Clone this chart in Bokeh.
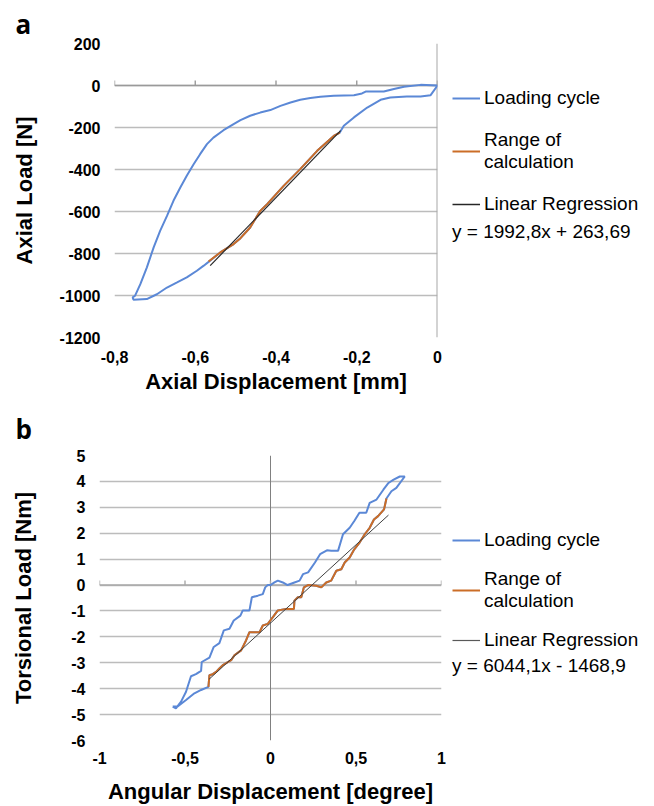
from bokeh.plotting import figure
from bokeh.models import Range1d, FixedTicker, Span, Legend, LegendItem
from bokeh.layouts import row
from bokeh.embed import file_html
from bokeh.resources import INLINE

# ---------------- Panel a data (Axial Displacement [mm] vs Axial Load [N]) ----------------
a_cycle_x = [0, -0.042, -0.083, -0.108, -0.133, -0.178, -0.187, -0.207, -0.257, -0.29, -0.315, -0.34,
             -0.364, -0.389, -0.414, -0.439, -0.464, -0.488, -0.505, -0.53, -0.555, -0.571, -0.588,
             -0.604, -0.621, -0.637, -0.654, -0.67, -0.687, -0.703, -0.72, -0.736, -0.749, -0.755,
             -0.753, -0.72, -0.695, -0.67, -0.645, -0.621, -0.596, -0.579, -0.567,
             -0.538, -0.505, -0.488, -0.464, -0.439, -0.422, -0.381, -0.34, -0.298, -0.257, -0.242,
             -0.232, -0.207, -0.174, -0.141, -0.117, -0.076, -0.042, -0.017, 0]
a_cycle_y = [0, 3, -6, -17, -29, -29, -38, -46, -49, -54, -60, -68,
             -81, -97, -117, -129, -144, -165, -184, -213, -248, -279, -327,
             -375, -430, -486, -549, -621, -692, -771, -867, -946, -1001, -1009,
             -1020, -1017, -994, -962, -938, -914, -882, -858, -840,
             -795, -755, -727, -676, -597, -565, -478, -398, -311, -240, -224,
             -192, -152, -105, -68, -57, -52, -52, -46, 0]
a_range_x = [-0.567, -0.538, -0.505, -0.488, -0.464, -0.439, -0.422, -0.381, -0.34, -0.298, -0.257, -0.242]
a_range_y = [-838, -795, -755, -727, -676, -597, -565, -478, -398, -311, -240, -224]
a_reg_x = [-0.563, -0.24]
a_reg_y = [-858, -215]
a_equation = "y = 1992,8x + 263,69"
a_xticks = [-0.8, -0.6, -0.4, -0.2, 0]
a_xlabels = ["-0,8", "-0,6", "-0,4", "-0,2", "0"]
a_yticks = [200, 0, -200, -400, -600, -800, -1000, -1200]
a_ylabels = ["200", "0", "-200", "-400", "-600", "-800", "-1000", "-1200"]

# ---------------- Panel b data (Angular Displacement [degree] vs Torsional Load [Nm]) ----------------
b_up_x = [-0.572, -0.553, -0.523, -0.494, -0.465, -0.436, -0.406, -0.402, -0.357, -0.332, -0.299, -0.273,
          -0.24, -0.215, -0.176, -0.162, -0.123, -0.109, -0.074, -0.045, -0.031, -0.016, 0, 0.023,
          0.043, 0.072, 0.1, 0.14, 0.17, 0.19, 0.22, 0.26, 0.29, 0.33, 0.355, 0.395, 0.424, 0.463,
          0.49, 0.52, 0.56, 0.58, 0.62, 0.66, 0.69, 0.72, 0.756, 0.785]
b_up_y = [-4.69, -4.76, -4.5, -4.12, -3.52, -3.44, -3.31, -2.97, -2.8, -2.39, -2.24, -1.75,
          -1.69, -1.37, -1.18, -0.98, -0.98, -0.47, -0.41, -0.35, -0.09, 0, 0, 0.1,
          0.17, 0.1, 0, 0.1, 0.17, 0.42, 0.49, 0.87, 1.19, 1.34, 1.32, 1.32, 1.96, 2.21,
          2.47, 2.79, 2.79, 3.17, 3.3, 3.68, 3.94, 4.07, 4.19, 4.19]
b_top_x = [0.736, 0.707]
b_top_y = [3.75, 3.62]
b_range_x = [0.678, 0.664, 0.629, 0.605, 0.58, 0.551, 0.521, 0.49, 0.463, 0.434, 0.414, 0.385, 0.355,
             0.326, 0.297, 0.268, 0.219, 0.195, 0.18, 0.16, 0.14, 0.137, 0.092, 0.043, 0.014, -0.016,
             -0.045, -0.064, -0.123, -0.143, -0.172, -0.211, -0.23, -0.279, -0.299, -0.318, -0.338,
             -0.357, -0.363]
b_range_y = [3.34, 2.92, 2.66, 2.53, 2.21, 1.96, 1.64, 1.38, 1.06, 0.87, 0.61, 0.55, 0.17,
             0.1, -0.09, -0.03, 0, -0.09, -0.47, -0.47, -0.6, -0.92, -0.92, -0.98, -1.24, -1.5,
             -1.56, -1.82, -1.82, -2.14, -2.52, -2.71, -2.9, -3.09, -3.22, -3.35, -3.44,
             -3.48, -3.93]
b_low_x = [-0.406, -0.445, -0.494, -0.543, -0.572]
b_low_y = [-4.05, -4.18, -4.44, -4.69, -4.69]
b_reg_x = [-0.36, 0.69]
b_reg_y = [-3.64, 2.70]
b_equation = "y = 6044,1x - 1468,9"
b_xticks = [-1, -0.5, 0, 0.5, 1]
b_xlabels = ["-1", "-0,5", "0", "0,5", "1"]
b_yticks = [5, 4, 3, 2, 1, 0, -1, -2, -3, -4, -5, -6]
b_ylabels = ["5", "4", "3", "2", "1", "0", "-1", "-2", "-3", "-4", "-5", "-6"]

legend_labels = ["Loading cycle", "Range of\ncalculation", "Linear Regression"]

BLUE = "#5b88d6"
ORANGE = "#cb6d27"
FONT = "Liberation Sans"


def base_fig(width, height, xr, yr, xticks, xlabels, yticks, ylabels, xtitle, ytitle,
             left, right, top, bottom, ylab_standoff, xtick_standoff, xlab_standoff,
             letter, letter_offset, letter_standoff):
    p = figure(width=width, height=height, x_range=Range1d(*xr), y_range=Range1d(*yr),
               output_backend="svg", toolbar_location=None)
    p.min_border_left = left
    p.min_border_right = right
    p.min_border_top = top
    p.min_border_bottom = bottom
    p.outline_line_color = None
    p.xgrid.visible = False
    p.ygrid.grid_line_color = "#bcbcbc"
    p.ygrid.grid_line_width = 1.6
    p.ygrid.ticker = FixedTicker(ticks=yticks)
    p.xaxis.ticker = FixedTicker(ticks=xticks)
    p.xaxis.major_label_overrides = {t: l for t, l in zip(xticks, xlabels)}
    p.yaxis.ticker = FixedTicker(ticks=yticks)
    p.yaxis.major_label_overrides = {t: l for t, l in zip(yticks, ylabels)}
    for ax in (p.xaxis, p.yaxis):
        ax.axis_line_alpha = 0
        ax.major_tick_line_alpha = 0
        ax.minor_tick_line_alpha = 0
        ax.major_tick_out = 0
        ax.major_tick_in = 0
        ax.major_label_text_font = FONT
        ax.major_label_text_font_style = "bold"
        ax.major_label_text_font_size = "16px"
        ax.major_label_text_color = "#000000"
        ax.axis_label_text_font = FONT
        ax.axis_label_text_font_style = "bold"
        ax.axis_label_text_font_size = "22px"
        ax.axis_label_text_color = "#000000"
    p.xaxis.axis_label = xtitle
    p.yaxis.axis_label = ytitle
    p.yaxis.major_label_standoff = 14
    p.xaxis.major_label_standoff = xtick_standoff
    p.yaxis.axis_label_standoff = ylab_standoff
    p.xaxis.axis_label_standoff = xlab_standoff
    p.title.text = letter
    p.title.align = "left"
    p.title.offset = letter_offset
    p.title.standoff = letter_standoff
    p.title.text_font = "Open Sans"
    p.title.text_font_style = "bold"
    p.title.text_font_size = "26px"
    p.title.text_color = "#000000"
    return p


def legend_fig(width, height, top, bottom, loc, spacing, eq_text, title_standoff, series, styles):
    # legend-only panel: the series are drawn off-view so that only their legend glyphs show
    q = figure(width=width, height=height, x_range=Range1d(10, 11), y_range=Range1d(10, 11),
               x_axis_type=None, y_axis_type=None, output_backend="svg", toolbar_location=None)
    q.min_border_left = 0
    q.min_border_right = 0
    q.min_border_top = top
    q.min_border_bottom = bottom
    q.outline_line_color = None
    q.grid.visible = False
    rs = [q.line(x=sx, y=sy, line_color=c, line_width=w) for (sx, sy), (c, w) in zip(series, styles)]
    items = [LegendItem(label=lab, renderers=[r]) for lab, r in zip(legend_labels, rs)]
    lg = Legend(items=items, location=loc,
                label_text_font=FONT, label_text_font_size="19px", label_text_color="#000000",
                label_text_line_height=1.15,
                glyph_width=28, glyph_height=22, label_height=22, label_standoff=4,
                padding=0, margin=0, spacing=spacing, border_line_alpha=0, background_fill_alpha=0,
                title=eq_text, title_location="below", title_standoff=title_standoff,
                title_text_font=FONT, title_text_font_size="19px", title_text_font_style="normal",
                title_text_color="#000000")
    q.add_layout(lg)
    return q


# ---------------- Panel a ----------------
pa = base_fig(442, 396, (-0.8, 0), (-1200, 200), a_xticks, a_xlabels, a_yticks, a_ylabels,
              "Axial Displacement [mm]", "Axial Load [N]",
              left=114, right=5, top=43, bottom=59, ylab_standoff=20, xtick_standoff=13,
              xlab_standoff=3, letter="a", letter_offset=-99, letter_standoff=4)
pa.add_layout(Span(location=0, dimension="width", line_color="#9a9a9a", line_width=1.6, level="underlay"))
pa.add_layout(Span(location=0, dimension="height", line_color="#a8a8a8", line_width=2, level="underlay"))
a_tick_len = 24
pa.segment(x0=a_xticks, y0=[0] * len(a_xticks), x1=a_xticks, y1=[a_tick_len] * len(a_xticks),
           line_color="#9a9a9a", line_width=1.4)
pa.line(a_cycle_x, a_cycle_y, line_color=BLUE, line_width=2)
pa.line(a_range_x, a_range_y, line_color=ORANGE, line_width=2)
pa.line(a_reg_x, a_reg_y, line_color="#262626", line_width=1.2)
la = legend_fig(212, 396, 43, 59, (10, 94), 20, a_equation, 6,
                [(a_cycle_x, a_cycle_y), (a_range_x, a_range_y), (a_reg_x, a_reg_y)],
                [(BLUE, 2), (ORANGE, 2), ("#262626", 1.5)])

# ---------------- Panel b ----------------
b_cycle_x = b_up_x + b_top_x + b_range_x + b_low_x
b_cycle_y = b_up_y + b_top_y + b_range_y + b_low_y
pb = base_fig(446, 410, (-1, 1), (-6, 5), b_xticks, b_xlabels, b_yticks, b_ylabels,
              "Angular Displacement [degree]", "Torsional Load [Nm]",
              left=99, right=5, top=59, bottom=64, ylab_standoff=32, xtick_standoff=11,
              xlab_standoff=12, letter="b", letter_offset=-84, letter_standoff=18)
pb.add_layout(Span(location=0, dimension="width", line_color="#a8a8a8", line_width=1.6, level="underlay"))
pb.add_layout(Span(location=0, dimension="height", line_color="#808080", line_width=1, level="underlay"))
b_tick_len = 0.18
pb.segment(x0=b_xticks, y0=[0] * len(b_xticks), x1=b_xticks, y1=[b_tick_len] * len(b_xticks),
           line_color="#a8a8a8", line_width=1.4)
pb.line(b_cycle_x, b_cycle_y, line_color=BLUE, line_width=2)
pb.line(b_range_x, b_range_y, line_color=ORANGE, line_width=2)
pb.line(b_reg_x, b_reg_y, line_color="#404040", line_width=1)
lb = legend_fig(208, 410, 59, 64, (6, 63), 17, b_equation, 4,
                [(b_cycle_x, b_cycle_y), (b_range_x, b_range_y), (b_reg_x, b_reg_y)],
                [(BLUE, 2), (ORANGE, 2), ("#595959", 1.2)])

open("out.html", "w").write(file_html([row(pa, la), row(pb, lb)], INLINE))
